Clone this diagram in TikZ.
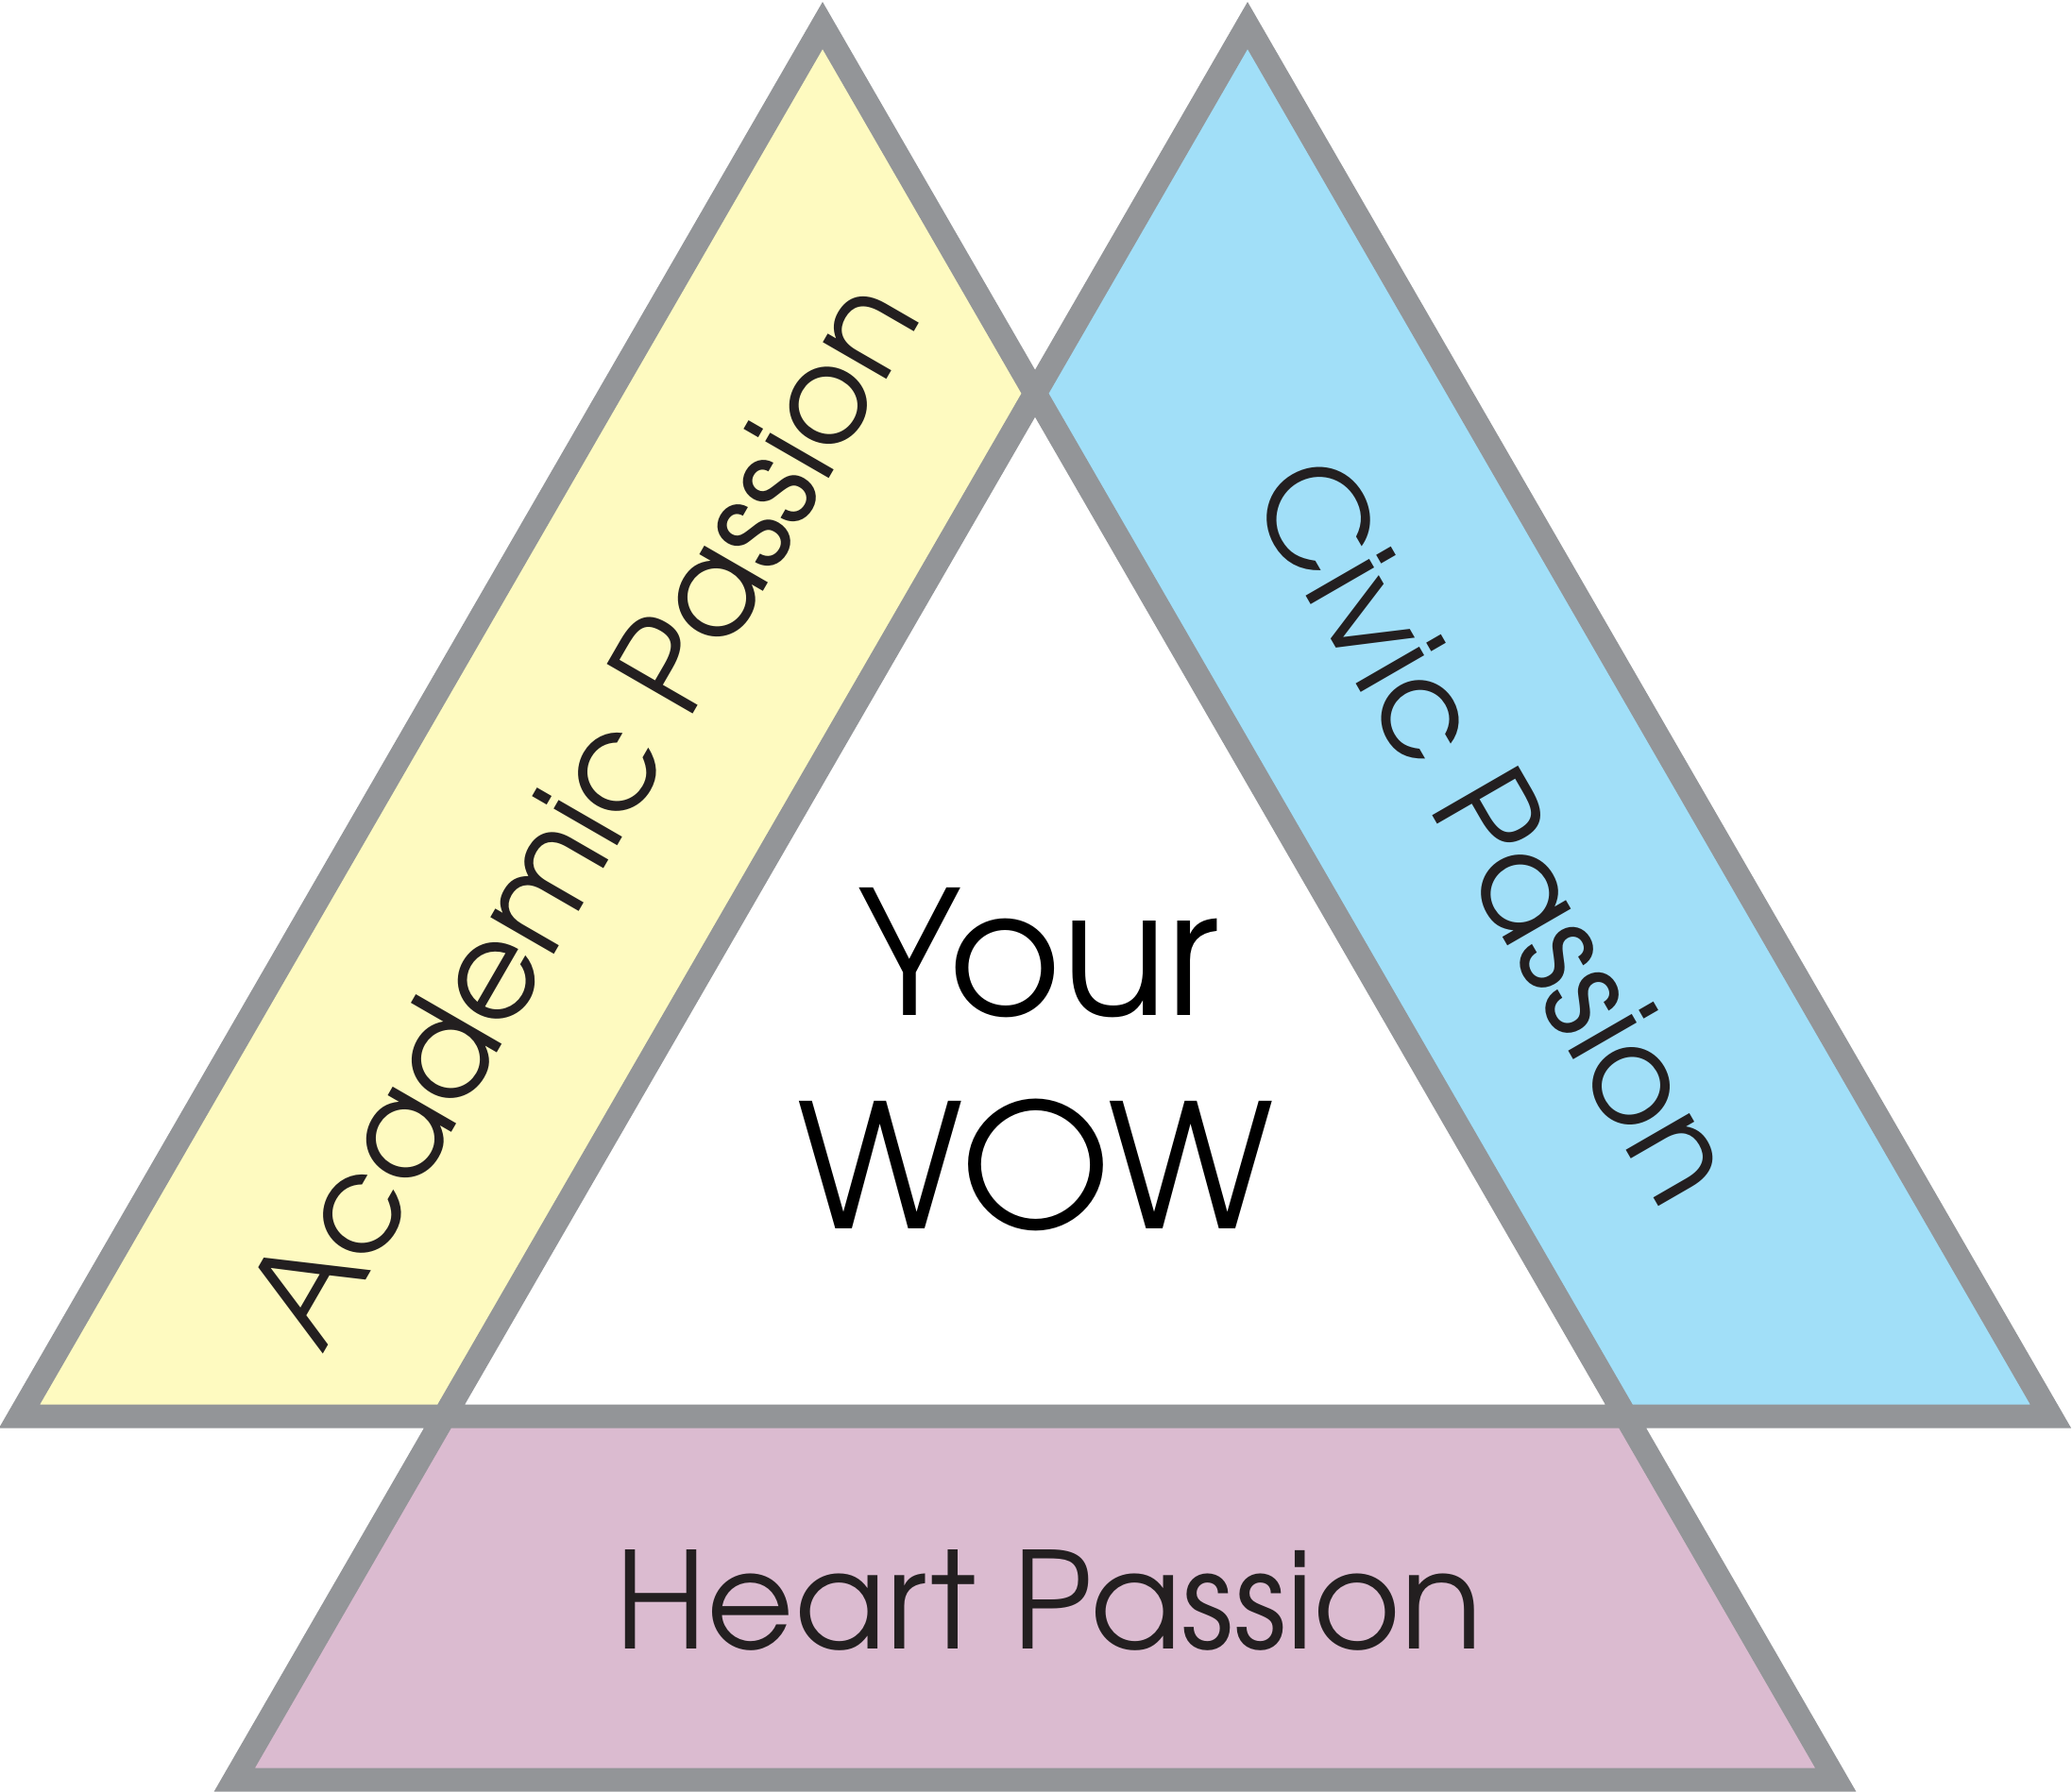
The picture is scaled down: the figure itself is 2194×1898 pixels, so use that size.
\documentclass[tikz,border=0pt]{standalone}
\usepackage{fontspec}
\setmainfont{TeX Gyre Adventor}
\usetikzlibrary{calc}
\definecolor{wgrey}{RGB}{147,149,152}
\definecolor{wyellow}{RGB}{254,250,192}
\definecolor{wblue}{RGB}{161,223,248}
\definecolor{wpink}{RGB}{219,187,208}
\definecolor{wtext}{RGB}{35,31,32}

\begin{document}
\begin{tikzpicture}[x=0.01cm,y=-0.01cm,
    edge/.style={draw=wgrey,line width=0.25cm,line join=miter},
    passion/.style={text=wtext,inner sep=0pt,font=\fontsize{40.4}{48}\selectfont},
    wow/.style={text=black,inner sep=0pt,font=\fontsize{52}{60}\selectfont}]
  \useasboundingbox (0,0) rectangle (2194,1898);
  % corners of the two triangles and of the base band
  \coordinate (la)  at (871,27);
  \coordinate (ra)  at (1321,27);
  \coordinate (bl)  at (20.6,1500);
  \coordinate (br)  at (2171.4,1500);
  \coordinate (lr)  at (1721.4,1500);
  \coordinate (rl)  at (470.6,1500);
  \coordinate (pbl) at (248.3,1885);
  \coordinate (pbr) at (1943.7,1885);
  \coordinate (xc)  at (intersection of la--lr and ra--rl);
  % fills
  \fill[wyellow] (la) -- (bl) -- (lr) -- cycle;
  \fill[wblue] (ra) -- (rl) -- (br) -- cycle;
  \fill[white] (xc) -- (rl) -- (lr) -- cycle;
  \fill[wpink] (rl) -- (lr) -- (pbr) -- (pbl) -- cycle;
  % outline
  \draw[edge] (bl) -- (la) -- (pbr) -- (pbl) -- (ra) -- (br) -- cycle;
  % labels
  \node[passion,rotate=60]  (acad)  at (615,859)  {Academic Passion};
  \node[passion,rotate=-60] (civic) at (1586,878) {Civic Passion};
  \node[passion,anchor=base] (heart) at (1111,1746) {Heart Passion};
  \node[wow,anchor=base] (your) at (1100,1075) {Your};
  \node[wow,anchor=base] (wow)  at (1097,1301) {WOW};
\end{tikzpicture}
\end{document}
